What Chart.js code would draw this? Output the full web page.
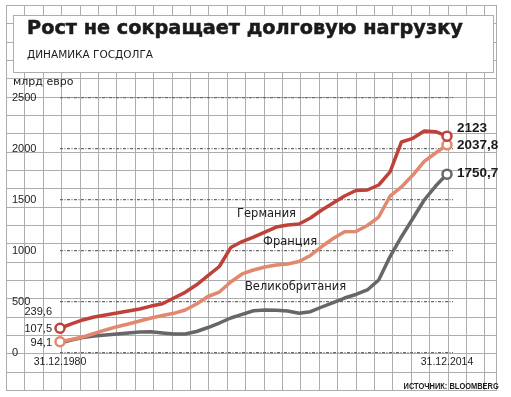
<!DOCTYPE html>
<html>
<head>
<meta charset="utf-8">
<script src="https://cdn.jsdelivr.net/npm/chart.js@4.4.1/dist/chart.umd.min.js"></script>
<style>
  html, body { margin: 0; padding: 0; background: #fff; }
  #wrap { position: relative; width: 511px; height: 397px; overflow: hidden; }
  #wrap canvas { position: absolute; left: 0; top: 0; }
  .txt { position: absolute; white-space: nowrap; color: #1b1b1b; }
  #title { left: 27px; top: 17.2px; font: bold 19.3px/1.164 "DejaVu Sans", sans-serif;
           -webkit-text-stroke: 0.5px #1b1b1b; }
  #subtitle { left: 27px; top: 47.6px; font: 10.5px/1.164 "DejaVu Sans", sans-serif; }
  #unit { left: 13px; top: 75.8px; font: 11px/1.164 "DejaVu Sans", sans-serif; }
  #source { right: 12px; top: 380.6px; font: bold 9px/1.117 "Liberation Sans", sans-serif;
            transform: scaleX(0.83); transform-origin: right center; }
</style>
</head>
<body>
<div id="wrap">
  <canvas id="debtChart" width="511" height="397"></canvas>
  <div class="txt" id="title">Рост не сокращает долговую нагрузку</div>
  <div class="txt" id="subtitle">ДИНАМИКА ГОСДОЛГА</div>
  <div class="txt" id="unit">млрд евро</div>
  <div class="txt" id="source">ИСТОЧНИК: BLOOMBERG</div>
</div>
<script>
// годы (на 31.12)
var years = [1980, 1981, 1982, 1983, 1984, 1985, 1986, 1987, 1988, 1989,
             1990, 1991, 1992, 1993, 1994, 1995, 1996, 1997, 1998, 1999,
             2000, 2001, 2002, 2003, 2004, 2005, 2006, 2007, 2008, 2009,
             2010, 2011, 2012, 2013, 2014];

// госдолг, млрд евро
var germany = [239.6, 282, 321, 350, 370, 389, 409, 428, 457, 480,
               536, 592, 666, 755, 845, 1031, 1090, 1134, 1183, 1232,
               1252, 1262, 1321, 1399, 1468, 1536, 1590, 1595, 1644, 1772,
               2066, 2102, 2174, 2167, 2123];
var france = [107.5, 129, 154, 188, 223, 255, 281, 311, 340, 365,
              386, 419, 477, 551, 595, 693, 772, 811, 840, 860,
              870, 894, 953, 1041, 1120, 1186, 1188, 1247, 1330, 1536,
              1625, 1742, 1875, 1958, 2037.8];
var britain = [94.1, 125, 149, 164, 174, 183, 193, 203, 205, 193,
               183, 183, 208, 247, 291, 340, 375, 411, 419, 416,
               409, 386, 402, 448, 492, 536, 571, 615, 713, 943,
               1137, 1316, 1497, 1634, 1750.7];

var seriesNames = ['Германия', 'Франция', 'Великобритания'];
var xTickValues = [1980, 2014];
var xTickLabels = ['31.12.1980', '31.12.2014'];
var yTicks = [0, 500, 1000, 1500, 2000, 2500];

var colors = ['#c0403a', '#e2886f', '#67676b'];
// где подписаны названия стран (год, значение)
var nameAt = [[1995.55, 1360], [1997.84, 1085], [1996.25, 644]];
// сдвиги подписей у крайних точек, px
var endShift = [-8, 0, -1];
var startShift = [-16, -13, 0];
var showStart = [true, true, false];

var tickFont = '"Liberation Sans", Arial, sans-serif';

function fmt(v) { return String(v).replace('.', ','); }

function pts(arr) {
  return years.map(function (y, i) { return {x: y, y: arr[i]}; });
}

function dotRadius(i) {
  return function (ctx) {
    var n = ctx.dataset.data.length;
    if (ctx.dataIndex === n - 1) return 4.5;
    if (ctx.dataIndex === 0 && showStart[i]) return 4.5;
    return 0;
  };
}

var paper = {
  id: 'paper',
  beforeDraw: function (chart) {
    var ctx = chart.ctx;
    ctx.save();
    ctx.fillStyle = '#fff';
    ctx.fillRect(0, 0, chart.width, chart.height);
    ctx.strokeStyle = '#adadad';
    ctx.lineWidth = 1;
    ctx.beginPath();
    for (var x = 6; x < 495; x += 18.4) {
      var px = Math.round(x) + 0.5;
      ctx.moveTo(px, 5); ctx.lineTo(px, 390);
    }
    ctx.moveTo(496.5, 5); ctx.lineTo(496.5, 390);
    for (var y = 5; y < 391; y += 18.333) {
      var py = Math.round(y) + 0.5;
      ctx.moveTo(6, py); ctx.lineTo(497, py);
    }
    ctx.stroke();
    ctx.fillStyle = '#fff';
    ctx.fillRect(13, 15, 481, 57);
    ctx.strokeRect(13.5, 15.5, 480, 57);
    ctx.restore();
  }
};

var labels = {
  id: 'labels',
  afterDatasetsDraw: function (chart) {
    var ctx = chart.ctx;
    var sx = chart.scales.x, sy = chart.scales.y;
    ctx.save();
    ctx.fillStyle = '#1b1b1b';
    ctx.textBaseline = 'middle';
    chart.data.datasets.forEach(function (ds, i) {
      var meta = chart.getDatasetMeta(i);
      var first = meta.data[0], last = meta.data[meta.data.length - 1];
      ctx.font = 'bold 13.5px "Liberation Sans", Arial, sans-serif';
      ctx.textAlign = 'left';
      ctx.fillText(fmt(ds.data[ds.data.length - 1].y), last.x + 10, last.y + endShift[i]);
      ctx.font = '11px ' + tickFont;
      ctx.textAlign = 'right';
      ctx.fillText(fmt(ds.data[0].y), first.x - 8, first.y + startShift[i]);
      ctx.font = '11.5px "DejaVu Sans", sans-serif';
      ctx.textAlign = 'left';
      ctx.fillText(seriesNames[i], sx.getPixelForValue(nameAt[i][0]), sy.getPixelForValue(nameAt[i][1]));
    });
    ctx.restore();
  }
};

function makeSet(i, arr) {
  return {
    label: seriesNames[i],
    data: pts(arr),
    borderColor: colors[i],
    borderWidth: 3.5,
    borderJoinStyle: 'round',
    borderCapStyle: 'round',
    tension: 0,
    pointRadius: dotRadius(i),
    pointHoverRadius: dotRadius(i),
    pointBackgroundColor: '#fff',
    pointBorderColor: colors[i],
    pointBorderWidth: 2.5,
    clip: false
  };
}

new Chart(document.getElementById('debtChart').getContext('2d'), {
  type: 'line',
  data: {
    datasets: [makeSet(0, germany), makeSet(1, france), makeSet(2, britain)]
  },
  options: {
    responsive: false,
    animation: false,
    layout: { padding: { left: 12, top: 97.7, right: 58, bottom: 22.3 } },
    plugins: {
      legend: { display: false },
      tooltip: { enabled: false }
    },
    scales: {
      x: {
        type: 'linear',
        min: 1980,
        max: 2014.527,
        grid: { display: false, drawTicks: false },
        border: { display: false },
        afterBuildTicks: function (s) { s.ticks = xTickValues.map(function (v) { return {value: v}; }); },
        afterFit: function (s) { s.height = 22; },
        ticks: {
          autoSkip: false,
          maxRotation: 0,
          padding: 3,
          color: '#1b1b1b',
          font: { family: tickFont, size: 10.5 },
          callback: function (v, idx) { return xTickLabels[idx]; }
        }
      },
      y: {
        min: 0,
        max: 2500,
        afterBuildTicks: function (s) { s.ticks = yTicks.map(function (v) { return {value: v}; }); },
        afterFit: function (s) { s.width = 48; },
        border: { display: false, dash: [3, 1.5, 1, 1.5] },
        grid: { color: '#6a6a6a', lineWidth: 1.2, drawTicks: false },
        ticks: {
          crossAlign: 'far',
          padding: 0,
          color: '#1b1b1b',
          font: { family: tickFont, size: 11 },
          callback: function (v) { return String(v); }
        }
      }
    }
  },
  plugins: [paper, labels]
});
</script>
</body>
</html>
